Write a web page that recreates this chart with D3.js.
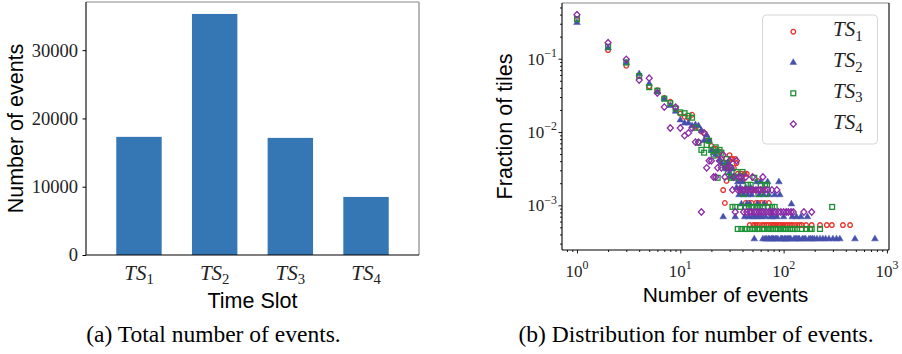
<!DOCTYPE html>
<html>
<head>
<meta charset="utf-8">
<script src="https://cdn.jsdelivr.net/npm/d3@7"></script>
<style>
  body { margin: 0; background: #fff; }
  svg { display: block; }
</style>
</head>
<body>
<svg id="fig"></svg>
<script>
// ---- data ----
const slots = ["1", "2", "3", "4"];
const barValues = [17300, 35300, 17150, 8500];
const barTicks = [0, 10000, 20000, 30000];

// total tiles per time slot (fraction = tiles with x events / total)
const tilesTotal = [1860, 2880, 2105, 1234];

// [number of events, number of tiles]
const ts1Counts = [[1,632],[2,244],[3,149],[4,108],[5,78],[6,69],[7,54],[8,48],[9,39],[10,33],[11,30],[12,29],[13,32],[14,22],[15,21],[16,19],[17,18],[18,16],[19,14],[20,12],[21,11],[22,11],[23,9],[24,10],[25,8],[26,3],[27,2],[28,4],[29,7],[30,9],[31,8],[32,8],[33,6],[34,8],[35,7],[36,5],[37,4],[38,3],[39,5],[40,4],[41,3],[42,5],[43,2],[44,5],[45,3],[46,2],[47,1],[48,3],[49,2],[50,3],[51,1],[52,3],[53,1],[54,2],[55,1],[56,4],[57,2],[58,1],[61,2],[62,1],[63,3],[65,1],[66,2],[68,1],[71,1],[72,2],[75,1],[78,1],[80,1],[83,1],[86,1],[90,1],[93,1],[97,1],[100,1],[105,1],[110,1],[115,1],[120,1],[127,1],[135,1],[143,1],[150,1],[165,1],[187,1],[225,1],[262,1],[293,1],[375,1],[440,1]];
const ts2Counts = [[1,893],[2,403],[3,253],[4,179],[5,132],[6,101],[7,81],[8,66],[9,55],[10,42],[11,38],[12,38],[13,35],[14,36],[15,35],[16,30],[17,22],[18,26],[19,22],[20,16],[21,15],[22,14],[23,16],[24,12],[25,11],[26,2],[27,10],[28,9],[29,11],[30,8],[31,7],[32,9],[33,7],[34,2],[35,5],[36,6],[37,4],[38,5],[39,3],[40,6],[41,4],[42,2],[43,5],[44,3],[45,4],[46,2],[47,3],[48,5],[49,4],[50,2],[52,1],[53,2],[55,6],[56,3],[57,2],[58,4],[60,6],[61,2],[63,1],[64,4],[65,3],[66,1],[67,2],[68,1],[70,6],[71,1],[72,4],[73,1],[75,2],[76,1],[78,1],[79,2],[80,1],[82,4],[83,1],[85,1],[86,2],[88,1],[90,6],[92,4],[94,1],[96,1],[98,1],[100,2],[102,1],[105,1],[108,1],[111,1],[114,1],[117,1],[119,3],[121,2],[126,1],[130,1],[133,2],[134,1],[138,1],[142,1],[147,2],[152,1],[158,1],[163,1],[170,2],[176,1],[183,1],[190,1],[198,1],[210,1],[225,1],[240,1],[255,1],[275,1],[300,1],[325,1],[350,1],[490,1],[765,1]];
const ts3Counts = [[1,730],[2,307],[3,187],[4,122],[5,86],[6,77],[7,60],[8,52],[9,44],[10,39],[11,38],[12,35],[13,33],[14,24],[15,15],[16,12],[17,11],[18,14],[19,16],[20,12],[21,10],[22,13],[23,5],[24,12],[25,11],[26,8],[27,7],[28,9],[29,6],[30,7],[31,5],[32,2],[33,5],[34,2],[35,6],[36,1],[37,5],[38,2],[39,1],[40,6],[41,3],[42,1],[43,2],[44,1],[45,4],[46,2],[47,1],[48,4],[49,2],[50,1],[51,2],[52,5],[53,1],[55,2],[56,1],[57,3],[58,1],[59,2],[60,4],[62,1],[63,2],[65,1],[66,4],[68,3],[69,4],[70,1],[71,2],[73,1],[76,1],[77,2],[79,1],[82,2],[84,1],[88,1],[92,1],[95,1],[100,1],[105,1],[110,1],[116,1],[122,1],[128,1],[135,1],[150,1],[165,1],[180,1],[187,1],[225,1],[295,2]];
const ts4Counts = [[1,491],[2,204],[3,121],[4,63],[5,67],[6,42],[7,27],[8,14],[9,27],[10,14],[11,11],[12,12],[13,14],[14,9],[15,9],[16,1],[17,12],[18,4],[19,5],[20,5],[21,3],[22,3],[23,4],[24,5],[25,4],[26,6],[27,3],[28,4],[29,4],[30,5],[31,4],[32,2],[33,3],[34,1],[35,5],[36,2],[37,3],[38,2],[39,3],[40,2],[41,1],[42,2],[43,3],[44,1],[45,2],[47,1],[48,2],[49,1],[50,3],[51,2],[52,1],[54,2],[55,1],[57,2],[58,1],[60,2],[61,1],[63,3],[64,1],[66,2],[68,1],[70,2],[72,1],[75,1],[77,2],[79,1],[83,1],[86,2],[89,1],[94,1],[100,1],[106,1],[111,1],[118,1],[124,1],[157,1],[187,1]];

const logTicksX = [1, 10, 100, 1000];
const logTicksY = [0.001, 0.01, 0.1];

const W = 902, H = 354;
const serif = "'Liberation Serif', 'Times New Roman', serif";
const sans = "'Liberation Sans', Arial, sans-serif";

const svg = d3.select("#fig").attr("width", W).attr("height", H);
svg.append("rect").attr("width", W).attr("height", H).attr("fill", "#fff");

// TS_i label helper (math italic + upright subscript)
function tsLabel(sel, i, size) {
  sel.append("tspan").attr("font-style", "italic").text("TS");
  sel.append("tspan").attr("font-size", size * 0.7).attr("dy", size * 0.22).text(i);
}

// ================= (a) bar chart =================
const A = { left: 86, right: 419, top: 2, bottom: 255 };
const bx = d3.scaleLinear().domain([-0.7, 3.7]).range([A.left, A.right]);
const by = d3.scaleLinear().domain([0, 37050]).range([A.bottom, A.top]);

const ga = svg.append("g");
ga.selectAll("rect.bar")
  .data(barValues)
  .join("rect")
    .attr("class", "bar")
    .attr("x", (d, i) => bx(i - 0.3))
    .attr("width", bx(0.6) - bx(0))
    .attr("y", d => by(d))
    .attr("height", d => by(0) - by(d))
    .attr("fill", "#3477b4");

const yAxisA = ga.append("g")
  .attr("transform", `translate(${A.left},0)`)
  .call(d3.axisLeft(by).tickValues(barTicks).tickSize(3.5).tickPadding(4.5).tickFormat(d3.format("d")));
yAxisA.select(".domain").remove();
yAxisA.attr("font-family", serif);
yAxisA.selectAll("text").attr("font-family", serif).attr("font-size", 18.5).attr("fill", "#222");
yAxisA.selectAll("line").attr("stroke", "#000").attr("stroke-width", 1);

ga.selectAll("text.xt")
  .data(slots)
  .join("text")
    .attr("class", "xt")
    .attr("x", (d, i) => bx(i))
    .attr("y", 279.5)
    .attr("text-anchor", "middle")
    .attr("font-family", serif)
    .attr("font-size", 21)
    .attr("fill", "#222")
    .each(function(d) { tsLabel(d3.select(this), d, 21); });

// spines
ga.append("line").attr("x1", A.left).attr("x2", A.right).attr("y1", A.top).attr("y2", A.top).attr("stroke", "#888").attr("stroke-width", 1.2);
ga.append("line").attr("x1", A.right).attr("x2", A.right).attr("y1", A.top).attr("y2", A.bottom).attr("stroke", "#888").attr("stroke-width", 1.2);
ga.append("line").attr("x1", A.left).attr("x2", A.left).attr("y1", A.top).attr("y2", A.bottom).attr("stroke", "#000").attr("stroke-width", 1.1);
ga.append("line").attr("x1", A.left).attr("x2", A.right).attr("y1", A.bottom).attr("y2", A.bottom).attr("stroke", "#000").attr("stroke-width", 1.1);

ga.append("text")
  .attr("transform", `translate(23,${(A.top + A.bottom) / 2}) rotate(-90)`)
  .attr("text-anchor", "middle").attr("font-family", sans).attr("font-size", 21.5)
  .text("Number of events");
ga.append("text")
  .attr("x", (A.left + A.right) / 2).attr("y", 307.5)
  .attr("text-anchor", "middle").attr("font-family", sans).attr("font-size", 21.5)
  .text("Time Slot");
ga.append("text")
  .attr("x", 213.5).attr("y", 342)
  .attr("text-anchor", "middle").attr("font-family", serif).attr("font-size", 23.5)
  .text("(a) Total number of events.");

// ================= (b) log-log scatter =================
const B = { left: 562, right: 889, top: 3, bottom: 250 };
const sx = d3.scaleLog().domain([Math.pow(10, -0.145), Math.pow(10, 3.02)]).range([B.left, B.right]);
const sy = d3.scaleLog().domain([Math.pow(10, -3.61), Math.pow(10, -0.24)]).range([B.bottom, B.top]);

function minorTicks(scale) {
  const [a, b] = scale.domain();
  const out = [];
  for (let e = Math.floor(Math.log10(a)); e <= Math.ceil(Math.log10(b)); e++) {
    for (let m = 2; m <= 9; m++) {
      const v = m * Math.pow(10, e);
      if (v >= a && v <= b) out.push(v);
    }
  }
  return out;
}

const gb = svg.append("g");

function drawAxis(axis) {
  const g = gb.append("g").call(axis);
  g.select(".domain").remove();
  g.selectAll("line").attr("stroke", "#000").attr("stroke-width", 0.9);
  return g;
}
drawAxis(d3.axisBottom(sx).tickValues(logTicksX).tickSize(3.5).tickFormat(""))
  .attr("transform", `translate(0,${B.bottom})`);
drawAxis(d3.axisBottom(sx).tickValues(minorTicks(sx)).tickSize(2).tickFormat(""))
  .attr("transform", `translate(0,${B.bottom})`);
drawAxis(d3.axisLeft(sy).tickValues(logTicksY).tickSize(3.5).tickFormat(""))
  .attr("transform", `translate(${B.left},0)`);
drawAxis(d3.axisLeft(sy).tickValues(minorTicks(sy)).tickSize(2).tickFormat(""))
  .attr("transform", `translate(${B.left},0)`);

function powLabel(sel, exp, size) {
  sel.append("tspan").text("10");
  sel.append("tspan").attr("font-size", size * 0.7).attr("dy", -size * 0.45)
    .text(exp < 0 ? "\u2212" + (-exp) : String(exp));
}

gb.selectAll("text.lx")
  .data(logTicksX)
  .join("text")
    .attr("class", "lx")
    .attr("x", d => sx(d)).attr("y", 276.5)
    .attr("text-anchor", "middle").attr("font-family", serif).attr("font-size", 17).attr("fill", "#222")
    .each(function(d) { powLabel(d3.select(this), Math.round(Math.log10(d)), 17); });

gb.selectAll("text.ly")
  .data(logTicksY)
  .join("text")
    .attr("class", "ly")
    .attr("x", 557).attr("y", d => sy(d) + 6)
    .attr("text-anchor", "end").attr("font-family", serif).attr("font-size", 17).attr("fill", "#222")
    .each(function(d) { powLabel(d3.select(this), Math.round(Math.log10(d)), 17); });

// series
const series = [
  { name: "1", counts: ts1Counts, total: tilesTotal[0], color: "#e8342c", shape: "circle" },
  { name: "2", counts: ts2Counts, total: tilesTotal[1], color: "#4650ac", shape: "triangle" },
  { name: "3", counts: ts3Counts, total: tilesTotal[2], color: "#1c9134", shape: "square" },
  { name: "4", counts: ts4Counts, total: tilesTotal[3], color: "#8a2ca6", shape: "diamond" }
];

function marker(g, s) {
  if (s.shape === "circle") {
    g.append("circle").attr("r", 2.3).attr("fill", "none").attr("stroke", s.color).attr("stroke-width", 1.3);
  } else if (s.shape === "triangle") {
    g.append("path").attr("d", d3.symbol(d3.symbolTriangle, 19)()).attr("fill", s.color).attr("stroke", s.color).attr("stroke-width", 0.5);
  } else if (s.shape === "square") {
    g.append("rect").attr("x", -2.4).attr("y", -2.4).attr("width", 4.8).attr("height", 4.8)
      .attr("fill", "none").attr("stroke", s.color).attr("stroke-width", 1.3);
  } else {
    g.append("path").attr("d", "M0,-3.2L3,0L0,3.2L-3,0Z")
      .attr("fill", "none").attr("stroke", s.color).attr("stroke-width", 1.3);
  }
}

const plot = gb.append("g");
series.forEach(s => {
  plot.append("g").selectAll("g")
    .data(s.counts)
    .join("g")
      .attr("transform", d => `translate(${sx(d[0])},${sy(d[1] / s.total)})`)
      .each(function() { marker(d3.select(this), s); });
});

// spines
gb.append("line").attr("x1", B.left).attr("x2", B.right).attr("y1", B.top).attr("y2", B.top).attr("stroke", "#888").attr("stroke-width", 1.2);
gb.append("line").attr("x1", B.right).attr("x2", B.right).attr("y1", B.top).attr("y2", B.bottom).attr("stroke", "#000").attr("stroke-width", 1.1);
gb.append("line").attr("x1", B.left).attr("x2", B.left).attr("y1", B.top).attr("y2", B.bottom).attr("stroke", "#000").attr("stroke-width", 1.1);
gb.append("line").attr("x1", B.left).attr("x2", B.right).attr("y1", B.bottom).attr("y2", B.bottom).attr("stroke", "#000").attr("stroke-width", 1.1);

// legend
const lg = gb.append("g");
lg.append("rect").attr("x", 762.5).attr("y", 15).attr("width", 115).attr("height", 129).attr("rx", 4)
  .attr("fill", "#fff").attr("fill-opacity", 0.8).attr("stroke", "#d6d6d6").attr("stroke-width", 1);
series.forEach((s, i) => {
  const yy = 31.7 + i * 30.8;
  marker(lg.append("g").attr("transform", `translate(793.3,${yy})`), s);
  const t = lg.append("text").attr("x", 833).attr("y", yy + 4.5)
    .attr("font-family", serif).attr("font-size", 21).attr("fill", "#222");
  tsLabel(t, s.name, 21);
});

gb.append("text")
  .attr("transform", `translate(512,${(B.top + B.bottom) / 2}) rotate(-90)`)
  .attr("text-anchor", "middle").attr("font-family", sans).attr("font-size", 21.5)
  .text("Fraction of tiles");
gb.append("text")
  .attr("x", (B.left + B.right) / 2).attr("y", 301.5)
  .attr("text-anchor", "middle").attr("font-family", sans).attr("font-size", 21)
  .text("Number of events");
gb.append("text")
  .attr("x", 696).attr("y", 342)
  .attr("text-anchor", "middle").attr("font-family", serif).attr("font-size", 23.5)
  .text("(b) Distribution for number of events.");
</script>
</body>
</html>
